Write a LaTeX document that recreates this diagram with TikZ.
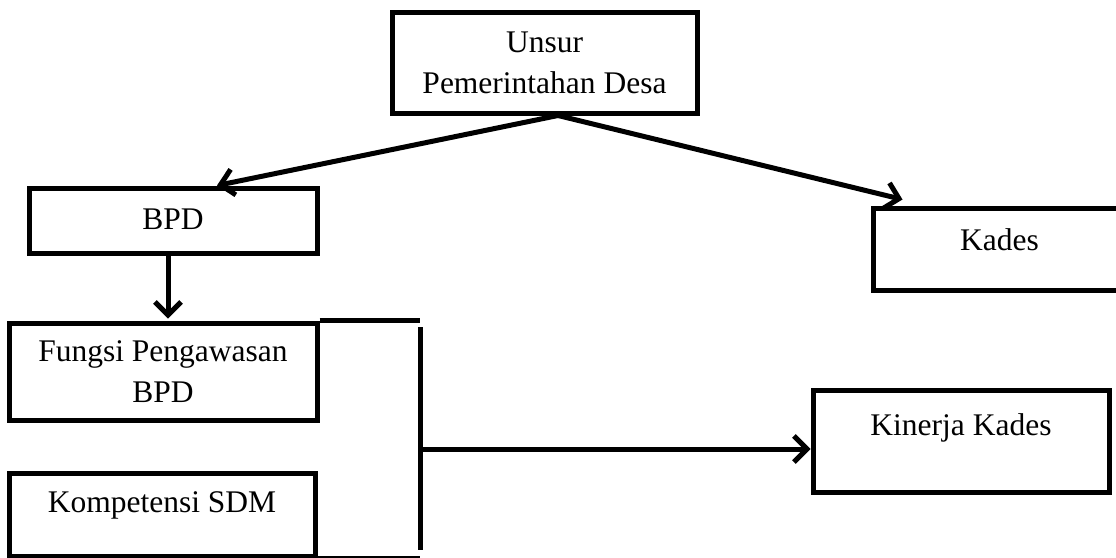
\documentclass[tikz,border=0pt]{standalone}
\usepackage{fontspec}
\setmainfont{Liberation Serif}
\usetikzlibrary{arrows.meta,calc}
\begin{document}
\begin{tikzpicture}[x=1pt,y=-1pt,
  box/.style={draw=black,line width=5pt,rectangle,inner sep=0pt,align=center,
    font=\fontsize{31.5}{41}\selectfont},
  one/.style={text height=22pt,text depth=#1},
  conn/.style={line width=5pt},
  arr/.style={line width=5pt,-{Straight Barb[length=13pt,width=26pt,line width=5pt]}}]
\clip (0,0) rectangle (1116,557);
\useasboundingbox (0,0) rectangle (1116,557);
% boxes
\node[box,minimum width=305pt,minimum height=101pt] (unsur) at (544.5,62.5) {Unsur\\Pemerintahan Desa};
\node[box,one=5pt,minimum width=288pt,minimum height=65pt] (bpd) at (173,220.5) {BPD};
\node[box,one=20pt,minimum width=253pt,minimum height=82pt] (kades) at (999.5,249) {Kades};
\node[box,minimum width=308pt,minimum height=97pt] (fungsi) at (163,371.5) {Fungsi Pengawasan\\BPD};
\node[box,one=26pt,minimum width=306pt,minimum height=83pt] (komp) at (162,514.5) {Kompetensi SDM};
\node[box,one=34pt,minimum width=296pt,minimum height=102pt] (kin) at (961,441) {Kinerja Kades};
% connectors
\coordinate (split) at ($(unsur.south)+(13.5,0)$);
\draw[arr] (split) -- ([xshift=44pt]bpd.north);
\draw[arr] (split) -- ([xshift=32pt,yshift=6pt]kades.north west);
\coordinate (bf) at ([xshift=5pt,yshift=2pt]fungsi.north);
\draw[arr] (bpd.south -| bf) -- (bf);
\coordinate (bt) at (420,323);
\coordinate (bb) at (420,550);
\draw[conn] (fungsi.north east) -- (bt |- fungsi.north);
\draw[conn] ([yshift=-4pt]bt) -- (bb);
\draw[conn] (komp.south east) -- (bb |- komp.south);
\coordinate (kt) at ([yshift=-8pt]kin.west);
\draw[arr] (bt |- kt) -- (kt);
\end{tikzpicture}
\end{document}
